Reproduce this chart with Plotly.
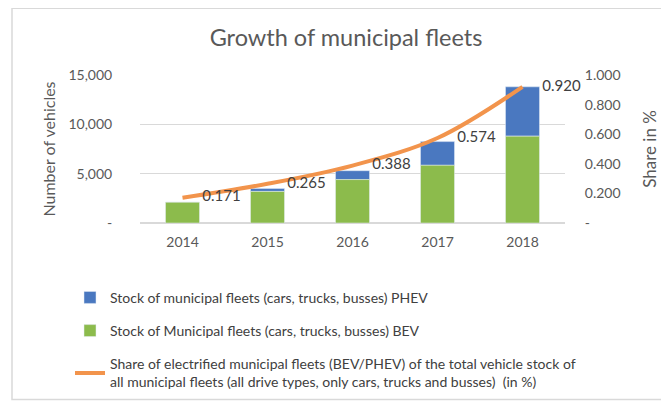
import plotly.graph_objects as go

years = ["2014", "2015", "2016", "2017", "2018"]
bev = [2100, 3200, 4400, 5850, 8800]
phev = [0, 300, 900, 2400, 5000]
share = [0.171, 0.265, 0.388, 0.574, 0.920]
share_labels = ["0.171", "0.265", "0.388", "0.574", "0.920"]

left_ticks = [0, 5000, 10000, 15000]
left_text = ["-", "5,000", "10,000", "15,000"]
right_ticks = [0, 0.2, 0.4, 0.6, 0.8, 1.0]
right_text = ["-", "0.200", "0.400", "0.600", "0.800", "1.000"]

OFF = 8  # page body margin
W, H = 669 - OFF, 410 - OFF
PL, PR, PT, PB = 140, 565, 75, 226  # plot area in screen pixels
L, R, T, B = PL - OFF, W - (PR - OFF), PT - OFF, H - (PB - OFF)
pw, ph = PR - PL, PB - PT

FONT = "Lato, Open Sans, sans-serif"
GRAY = "#595959"

fig = go.Figure()
# PHEV sits on top of BEV (base = BEV stock)
fig.add_trace(go.Bar(
    x=years, y=phev, base=bev, name="Stock of municipal fleets (cars, trucks, busses) PHEV",
    marker_color="#4a78c0", legendgroup="a"))
fig.add_trace(go.Bar(
    x=years, y=bev, name="Stock of Municipal fleets (cars, trucks, busses) BEV",
    marker_color="#8cbb4c", legendgroup="b"))
fig.add_trace(go.Scatter(
    x=years, y=share, yaxis="y2", mode="lines+markers+text",
    line=dict(color="#f2944c", width=4, shape="spline"),
    marker=dict(size=30, color="rgba(0,0,0,0)"),
    text=share_labels, textposition="middle right", cliponaxis=False,
    textfont=dict(size=15, color="#404040", family=FONT),
    legendgroup="c",
    name="Share of electrified municipal fleets (BEV/PHEV) of the total vehicle stock of<br>all municipal fleets (all drive types, only cars, trucks and busses)  (in %)"))

def px_x(p):
    return (p - PL) / pw

def px_y(p):
    return (PB - p) / ph

fig.update_layout(
    width=W, height=H, barmode="overlay", bargap=0.6,
    margin=dict(l=L, r=R, t=T, b=B),
    paper_bgcolor="white", plot_bgcolor="white",
    font=dict(family=FONT, color=GRAY, size=14),
    title=dict(text="Growth of municipal fleets", x=(346 - OFF) / W,
               xanchor="center", y=1 - (38 - OFF) / H, yanchor="middle",
               font=dict(size=23.5, color=GRAY, family=FONT)),
    xaxis=dict(type="category", showgrid=False, showline=False,
               ticks="outside", ticklen=6, tickcolor="rgba(0,0,0,0)",
               tickfont=dict(size=14, color=GRAY)),
    yaxis=dict(range=[0, 15000], tickvals=left_ticks, ticktext=left_text,
               showgrid=True, gridcolor="#d9d9d9", gridwidth=1, zeroline=True, zerolinecolor="#d9d9d9",
               ticks="outside", ticklen=24, tickcolor="rgba(0,0,0,0)",
               tickfont=dict(size=14, color=GRAY),
               title=dict(text="Number of vehicles", font=dict(size=16, color=GRAY), standoff=8)),
    yaxis2=dict(range=[0, 1.0], overlaying="y", side="right", tickvals=right_ticks, ticktext=right_text,
                showgrid=False, zeroline=False,
                ticks="outside", ticklen=16, tickcolor="rgba(0,0,0,0)",
                tickfont=dict(size=14, color=GRAY),
                title=dict(text="Share in %", font=dict(size=17, color=GRAY), standoff=24)),
    legend=dict(x=px_x(70), y=px_y(286), xanchor="left", yanchor="top",
                traceorder="grouped", tracegroupgap=12,
                font=dict(size=14, color="#404040", family=FONT),
                bgcolor="rgba(0,0,0,0)"),
    showlegend=True,
)

fig.add_shape(type="rect", xref="paper", yref="paper",
              x0=px_x(12), x1=px_x(720), y0=px_y(406), y1=px_y(7),
              line=dict(color="#d9d9d9", width=1.5), fillcolor="rgba(0,0,0,0)", layer="below")

fig.write_html("out.html")
